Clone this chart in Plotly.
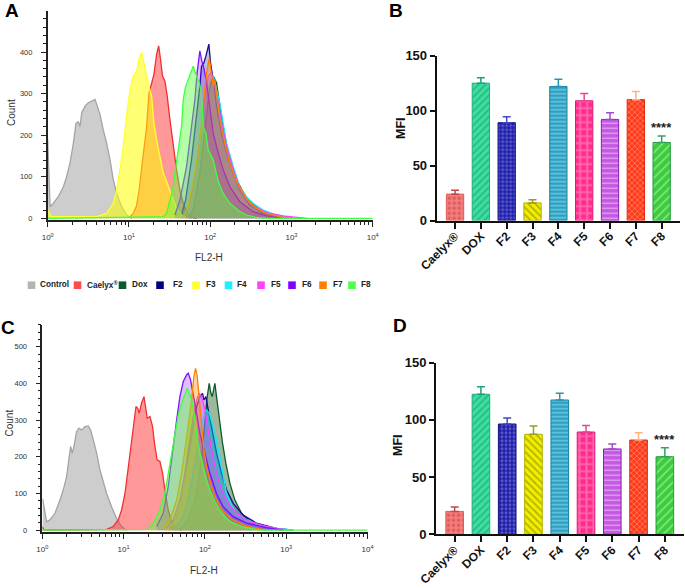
import plotly.graph_objects as go

W, H = 685, 588

# ---------------- legend / series ----------------
series_names = ["Control", "Caelyx®", "Dox", "F2", "F3", "F4", "F5", "F6", "F7", "F8"]
series_colors = ["#b4b4b4", "#ff4b4b", "#0b5a2c", "#00007f", "#ffff33",
                 "#1ff0ff", "#ff40ff", "#8000ff", "#ff8000", "#4dff4d"]
series_fill = ["rgba(196,196,196,0.85)", "rgba(255,50,50,0.5)", "rgba(40,100,30,0.45)",
               "rgba(0,0,140,0.25)", "rgba(255,255,0,0.55)", "rgba(0,225,255,0.4)",
               "rgba(255,60,255,0.3)", "rgba(128,0,255,0.25)", "rgba(255,128,0,0.35)",
               "rgba(90,255,60,0.45)"]
series_line = ["#a4a4a4", "#f03030", "#0b5a2c", "#101090", "#ffff30",
               "#18e6f5", "#ff40ff", "#7a10ff", "#ff8000", "#40ff40"]

# ---------------- Panel A histograms (FL2-H vs Count) ----------------
a_control_x = [1.0, 1.07, 1.17, 1.35, 1.56, 1.71, 1.88, 2.07, 2.23, 2.38, 2.50, 2.62, 2.88, 3.16,
               3.48, 3.82, 4.08, 4.40, 4.83, 5.31, 5.84, 6.41, 7.05, 8.13, 9.36, 10.8]
a_control_y = [190, 28, 36, 52, 76, 100, 133, 181, 229, 232, 221, 254, 270, 278,
               282, 286, 270, 250, 213, 181, 141, 93, 60, 28, 8, 0]
a_caelyx_x = [10.3, 11.3, 12.4, 13.4, 14.3, 15.3, 16.5, 17.6, 19.0, 20.3, 21.9, 23.2, 24.5, 25.9,
              27.7, 29.6, 31.9, 35.1, 38.5, 42.4, 46.6, 51.2, 58.9, 67.9]
a_caelyx_y = [4, 12, 30, 70, 120, 170, 220, 300, 326, 346, 395, 415, 382, 342,
              330, 294, 238, 173, 117, 68, 36, 16, 4, 0]
a_dox_x = [53.7, 61.8, 74.6, 86.0, 97.5, 108.8, 119.6, 131.4, 151.0, 174.5, 210.8, 279.8, 408, 654, 1047]
a_dox_y = [4, 20, 109, 221, 310, 342, 326, 270, 197, 141, 93, 48, 20, 6, 0]
a_f2_x = [44.4, 49.8, 58.9, 67.9, 74.6, 78.2, 83.6, 88.4, 92.0, 96.3, 101.0, 108.8, 119.6, 137.8,
          158.8, 191.8, 231.7, 306, 448, 790]
a_f2_y = [8, 44, 141, 246, 318, 366, 374, 390, 407, 419, 374, 334, 270, 205,
          157, 109, 68, 32, 12, 0]
a_f3_x = [1.0, 1.1, 4.0, 5.31, 6.41, 7.05, 7.75, 8.51, 9.36, 10.3, 11.3, 12.4, 13.4, 14.3, 15.3,
          16.5, 17.6, 19.0, 20.3, 21.9, 24.1, 26.4, 29.0, 31.9, 35.1, 38.5, 44.4, 51.2]
a_f3_y = [20, 4, 4, 12, 36, 68, 117, 173, 246, 310, 342, 354, 386, 399, 374,
          342, 318, 294, 229, 189, 149, 109, 89, 64, 44, 24, 8, 0]
a_f4_x = [51.2, 58.9, 71.2, 82.0, 90.2, 99.0, 108.8, 119.6, 131.4, 144.4, 158.8, 174.5, 191.8,
          231.7, 279.8, 337.9, 448, 654, 1047]
a_f4_y = [4, 28, 125, 221, 286, 334, 342, 310, 278, 229, 181, 153, 125,
          76, 52, 36, 20, 8, 0]
a_f5_x = [49.8, 56.2, 67.9, 78.2, 86.0, 94.5, 103.8, 114.1, 125.4, 137.8, 158.8, 191.8, 231.7,
          279.8, 337.9, 492.7, 790, 1528]
a_f5_y = [4, 36, 125, 221, 294, 342, 350, 318, 278, 229, 173, 117, 72,
          46, 30, 14, 6, 0]
a_f6_x = [36.8, 42.4, 51.2, 58.9, 64.8, 69.0, 74.6, 79.0, 83.6, 90.2, 99.0, 108.8, 125.4, 144.4,
          174.5, 231.7, 337.9, 492.7, 790]
a_f6_y = [8, 44, 125, 221, 286, 350, 403, 378, 362, 326, 262, 205, 157, 117,
          76, 40, 16, 6, 0]
a_f7_x = [46.6, 53.7, 64.8, 74.6, 83.6, 90.2, 97.5, 103.8, 108.8, 114.1, 122.0, 131.4, 151.0,
          174.5, 210.8, 279.8, 368, 492.7, 790, 1047]
a_f7_y = [4, 28, 109, 189, 286, 350, 386, 342, 318, 334, 286, 238, 181,
          133, 89, 48, 24, 12, 2, 0]
a_f8_x = [1.0, 26.4, 29.0, 31.9, 34.4, 36.8, 40.4, 44.4, 46.6, 49.8, 53.7, 58.9, 61.8, 67.9, 73.2,
          78.2, 82.0, 88.4, 94.5, 108.8, 125.4, 144.4, 174.5, 231.7, 279.8, 370, 493, 10000]
a_f8_y = [0, 4, 12, 44, 68, 109, 165, 221, 286, 318, 334, 358, 366, 342, 326,
          302, 221, 205, 165, 141, 89, 60, 36, 16, 8, 2, 0, 0]

# ---------------- Panel C histograms (FL2-H vs Count) ----------------
c_control_x = [1.01, 1.13, 1.24, 1.43, 1.65, 1.81, 1.99, 2.13, 2.23, 2.34, 2.45, 2.64, 2.82, 3.05,
               3.35, 3.68, 3.93, 4.24, 4.66, 5.12, 5.62, 6.18, 7.11, 8.20, 9.45, 10.9]
c_control_y = [85, 23, 28, 46, 82, 110, 146, 200, 228, 210, 228, 269, 278, 273,
               282, 284, 273, 246, 210, 164, 132, 100, 64, 32, 10, 0]
c_caelyx_x = [1.0, 1.05, 6.18, 7.46, 8.60, 9.45, 10.4, 11.4, 12.5, 13.5, 14.2, 14.9, 15.6, 16.6,
              17.8, 18.6, 19.5, 21.1, 22.7, 24.3, 25.9, 28.0, 30.2, 32.2, 35.4, 38.9, 44.9, 51.6]
c_caelyx_y = [10, 0, 2, 10, 28, 55, 100, 173, 246, 291, 337, 332, 319, 346,
              364, 337, 305, 310, 282, 228, 191, 187, 155, 110, 55, 23, 5, 0]
c_dox_x = [49.3, 62.4, 75.4, 86.8, 95.4, 102.8, 106.8, 113.0, 118.5, 123.1, 132.7, 139.0, 150.0,
           164.8, 181.2, 202.9, 233.7, 282.5, 357.4, 521.0, 918.7]
c_dox_y = [2, 28, 82, 155, 246, 328, 364, 400, 373, 364, 400, 364, 300,
           237, 182, 128, 82, 46, 23, 10, 0]
c_f2_x = [37.2, 44.9, 51.6, 59.5, 68.6, 79.0, 86.8, 93.6, 97.2, 102.8, 109.9, 120.8, 139.0, 160.2,
          184.6, 222.9, 296.1, 431.4, 760.4, 1219]
c_f2_y = [5, 37, 91, 173, 264, 337, 364, 373, 355, 364, 328, 282, 210, 155,
          110, 73, 41, 19, 5, 0]
c_f3_x = [33.8, 40.8, 47.0, 54.2, 59.5, 64.2, 68.6, 73.2, 79.0, 86.8, 97.2, 109.9, 126.6, 152.8,
          202.9, 296.1, 474.0]
c_f3_y = [2, 19, 55, 119, 200, 282, 346, 337, 282, 219, 155, 110, 73, 46, 23, 10, 0]
c_f4_x = [40.8, 51.6, 62.4, 71.9, 82.8, 93.6, 102.8, 113.0, 126.6, 139.0, 152.8, 168.0, 184.6,
          212.7, 245.0, 325.3, 474.0, 760.4, 1219]
c_f4_y = [2, 28, 82, 155, 237, 300, 328, 319, 282, 246, 200, 146, 100,
          69, 46, 28, 14, 5, 0]
c_f5_x = [33.8, 40.8, 49.3, 56.8, 64.2, 71.9, 79.0, 85.1, 91.0, 100, 109.9, 120.8, 139.0, 160.2,
          193.4, 245.0, 357.4, 572.5, 1009]
c_f5_y = [5, 28, 82, 155, 237, 310, 355, 373, 364, 328, 273, 219, 155, 110,
          73, 46, 23, 10, 0]
c_f6_x = [25.5, 30.7, 35.4, 40.8, 44.9, 49.3, 54.2, 59.5, 62.4, 66.6, 71.9, 79.0, 86.8, 100,
          115.1, 139.0, 168.0, 222.9, 325.3, 572.5, 918.7]
c_f6_y = [10, 46, 119, 237, 300, 364, 405, 423, 428, 410, 373, 319, 264, 210,
          155, 100, 64, 37, 19, 7, 0]
c_f7_x = [30.7, 37.2, 44.9, 51.6, 56.8, 62.4, 68.6, 73.2, 76.8, 80.5, 85.1, 91.0, 97.2, 104.8,
          120.8, 139.0, 168.0, 222.9, 325.3, 572.5]
c_f7_y = [5, 28, 82, 155, 219, 282, 355, 419, 441, 419, 355, 273, 219, 173,
          119, 82, 51, 28, 11, 0]
c_f8_x = [1.0, 19.2, 23.2, 28.0, 32.2, 35.4, 38.9, 42.8, 47.0, 51.6, 56.8, 60.6, 65.4, 70.5, 75.4,
          80.5, 86.8, 95.4, 104.8, 115.1, 132.7, 152.8, 184.6, 222.9, 296.1, 474.0, 10000]
c_f8_y = [0, 2, 19, 55, 100, 155, 210, 264, 314, 346, 373, 387, 369, 346, 300,
          246, 210, 173, 137, 110, 78, 55, 32, 19, 8, 0, 0]

# ---------------- Panels B and D: MFI bars ----------------
bar_labels = ["Caelyx®", "DOX", "F2", "F3", "F4", "F5", "F6", "F7", "F8"]
mfi_b = [24, 125, 89, 16, 122, 109, 92, 110, 71]
err_b = [3.5, 5, 5.5, 3, 6.5, 6.5, 6, 7.5, 6]
mfi_d = [20, 122.4, 96.4, 87.4, 117.4, 89.4, 74.6, 82.4, 67.8]
err_d = [3.8, 6.6, 5.3, 7.3, 5.8, 5.6, 4.4, 6.4, 7.9]
signif_label = "****"

bar_bg = ["#f47c7c", "#3cdf9f", "#1c1ca8", "#f2ee00", "#2aa0c2", "#ff2a8a", "#c458e2", "#ff3a1a", "#3ccc3c"]
bar_fg = ["#c83c3c", "#15956a", "#9a9af0", "#7a7a00", "#c8f4ff", "#ffa0cf", "#ffffff", "#ffb49a", "#c0ffc0"]
bar_edge = ["#e05a5a", "#1fae7c", "#101080", "#b0b000", "#1a84a4", "#e0187a", "#8a20b0", "#e02a10", "#1f9a3a"]
bar_err = ["#c04848", "#1f9f7f", "#4646c8", "#9c9c20", "#2a92b2", "#e0489a", "#a448c8", "#ffb27a", "#32a060"]
bar_shape = [".", "/", ".", "\\", "-", "+", "-", "x", "/"]
bar_psize = [5, 5, 4, 5, 4, 7, 5, 4, 6]
bar_solid = [0.35, 0.35, 0.45, 0.35, 0.35, 0.5, 0.25, 0.4, 0.3]

fig = go.Figure()

hist_a = [(a_control_x, a_control_y), (a_caelyx_x, a_caelyx_y), (a_dox_x, a_dox_y), (a_f2_x, a_f2_y),
          (a_f3_x, a_f3_y), (a_f4_x, a_f4_y), (a_f5_x, a_f5_y), (a_f6_x, a_f6_y), (a_f7_x, a_f7_y),
          (a_f8_x, a_f8_y)]
hist_c = [(c_control_x, c_control_y), (c_caelyx_x, c_caelyx_y), (c_dox_x, c_dox_y), (c_f2_x, c_f2_y),
          (c_f3_x, c_f3_y), (c_f4_x, c_f4_y), (c_f5_x, c_f5_y), (c_f6_x, c_f6_y), (c_f7_x, c_f7_y),
          (c_f8_x, c_f8_y)]

for hist, xa, ya in [(hist_a, "x", "y"), (hist_c, "x3", "y3")]:
    for i, (xs, ys) in enumerate(hist):
        fig.add_trace(go.Scatter(
            x=xs, y=ys, mode="lines", fill="tozeroy",
            fillcolor=series_fill[i], line=dict(color=series_line[i], width=1.3),
            xaxis=xa, yaxis=ya, showlegend=False, hoverinfo="skip", name=series_names[i]))

for vals, errs, xa, ya in [(mfi_b, err_b, "x2", "y2"), (mfi_d, err_d, "x4", "y4")]:
    for i, lab in enumerate(bar_labels):
        fig.add_trace(go.Bar(
            x=[lab], y=[vals[i]], width=0.67, xaxis=xa, yaxis=ya, showlegend=False,
            marker=dict(color=bar_bg[i], line=dict(color=bar_edge[i], width=1),
                        pattern=dict(shape=bar_shape[i], fgcolor=bar_fg[i], bgcolor=bar_bg[i],
                                     size=bar_psize[i], solidity=bar_solid[i])),
            error_y=dict(type="data", array=[errs[i]], arrayminus=[0], symmetric=False,
                         color=bar_err[i], thickness=1.5, width=4)))


def px_x(p):
    return p / W


def px_y(p):
    return 1 - p / H


minor_log = [m * 10 ** d for d in range(4) for m in range(2, 10)]
log_ticks = [1, 10, 100, 1000, 10000]
log_text = ["10<sup>0</sup>", "10<sup>1</sup>", "10<sup>2</sup>", "10<sup>3</sup>", "10<sup>4</sup>"]

flow_x = dict(type="log", range=[0, 4], showline=True, linecolor="#222", linewidth=1.5,
              ticks="outside", ticklen=5, tickwidth=1.3, tickcolor="#222",
              tickmode="array", tickvals=log_ticks, ticktext=log_text,
              tickfont=dict(family="Arial", size=8, color="#333"),
              minor=dict(tickmode="array", tickvals=minor_log, ticks="outside", ticklen=3,
                         tickcolor="#222", tickwidth=1),
              showgrid=False, zeroline=False, ticklabelstandoff=4, automargin=False)
flow_y = dict(showline=True, linecolor="#222", linewidth=1.5, ticks="outside", ticklen=5,
              tickwidth=1.3, tickcolor="#222", tickmode="array", tickvals=[0, 100, 200, 300, 400, 500],
              tickfont=dict(family="Arial", size=7.5, color="#333"),
              minor=dict(dtick=20, ticks="outside", ticklen=2.5, tickcolor="#222", tickwidth=1),
              showgrid=False, zeroline=False, ticklabelstandoff=7, automargin=False)
bar_x = dict(type="category", range=[-0.71, 8.71], showline=True, linecolor="#111", linewidth=2,
             ticks="outside", ticklen=6, tickwidth=1.5, tickcolor="#111", tickangle=-45,
             tickfont=dict(family="Arial", size=12, color="#111", weight="bold"),
             showgrid=False, zeroline=False, categoryorder="array", categoryarray=bar_labels,
             automargin=False, ticklabelstandoff=-4)
bar_y = dict(range=[0, 150], showline=True, linecolor="#111", linewidth=2, ticks="outside",
             ticklen=5, tickwidth=1.5, tickcolor="#111", tickvals=[0, 50, 100, 150],
             tickfont=dict(family="Arial", size=13, color="#111", weight="bold"),
             showgrid=False, zeroline=False, automargin=False)

fig.update_layout(
    width=W, height=H, margin=dict(l=0, r=0, t=0, b=0, pad=0, autoexpand=False),
    paper_bgcolor="white", plot_bgcolor="white", barmode="overlay",
    xaxis=dict(flow_x, domain=[px_x(47.7), px_x(372.7)], anchor="y"),
    yaxis=dict(flow_y, domain=[px_y(220), px_y(11.3)], range=[-4, 498], anchor="x"),
    xaxis3=dict(flow_x, domain=[px_x(42.3), px_x(367.5)], anchor="y3"),
    yaxis3=dict(flow_y, domain=[px_y(532), px_y(324.7)], range=[-5, 560], anchor="x3"),
    xaxis2=dict(bar_x, domain=[px_x(436.7), px_x(680)], anchor="y2"),
    yaxis2=dict(bar_y, domain=[px_y(220.5), px_y(55.7)], anchor="x2"),
    xaxis4=dict(bar_x, domain=[px_x(436), px_x(683.5)], anchor="y4"),
    yaxis4=dict(bar_y, domain=[px_y(534.3), px_y(362.7)], anchor="x4"),
)

ann = []


def text(x, y, s, size, bold=False, angle=0, color="#111", xanchor="center", family="Arial"):
    ann.append(dict(x=px_x(x), y=px_y(y), xref="paper", yref="paper", text=s, showarrow=False,
                    textangle=angle, xanchor=xanchor, yanchor="middle",
                    font=dict(family=family, size=size, color=color, weight="bold" if bold else "normal")))


# panel letters
text(11.5, 11, "A", 19, bold=True, color="#000")
text(395.5, 10, "B", 19, bold=True, color="#000")
text(7.5, 327, "C", 19, bold=True, color="#000")
text(399.5, 325.5, "D", 19, bold=True, color="#000")
# axis titles
text(11, 113, "Count", 10, angle=-90, color="#333")
text(209, 257, "FL2-H", 10, color="#333")
text(8.5, 423, "Count", 10, angle=-90, color="#333")
text(203.5, 570, "FL2-H", 10, color="#333")
text(401, 128, "MFI", 12.5, bold=True, angle=-90)
text(398, 445, "MFI", 12.5, bold=True, angle=-90)

# significance marks
for xa, ya, yv in [("x2", "y2", mfi_b[-1] + err_b[-1]), ("x4", "y4", mfi_d[-1] + err_d[-1])]:
    ann.append(dict(x=bar_labels[-1], y=yv, xref=xa, yref=ya, text=signif_label, showarrow=False,
                    yanchor="bottom", yshift=-1,
                    font=dict(family="Arial", size=13, color="#222", weight="bold")))

# legend row
leg_sq = [31.5, 77.5, 122.5, 160, 196, 228.5, 261, 292, 323, 352]
leg_tx = [38, 85, 130, 171, 204, 235, 269, 300, 331, 359]
shapes = []
for i, nm in enumerate(series_names):
    shapes.append(dict(type="rect", xref="paper", yref="paper",
                       x0=px_x(leg_sq[i] - 3.8), x1=px_x(leg_sq[i] + 3.8),
                       y0=px_y(289), y1=px_y(281.4), fillcolor=series_colors[i], line=dict(width=0)))
    label = "Caelyx<sup>®</sup>" if nm == "Caelyx®" else nm
    text(leg_tx[i], 285, label, 8.2, bold=True, color="#222", xanchor="left")

fig.update_layout(annotations=ann, shapes=shapes)
fig.write_html("out.html", config={"displayModeBar": False},
               post_script="document.body.style.margin='0';document.body.style.padding='0';")
